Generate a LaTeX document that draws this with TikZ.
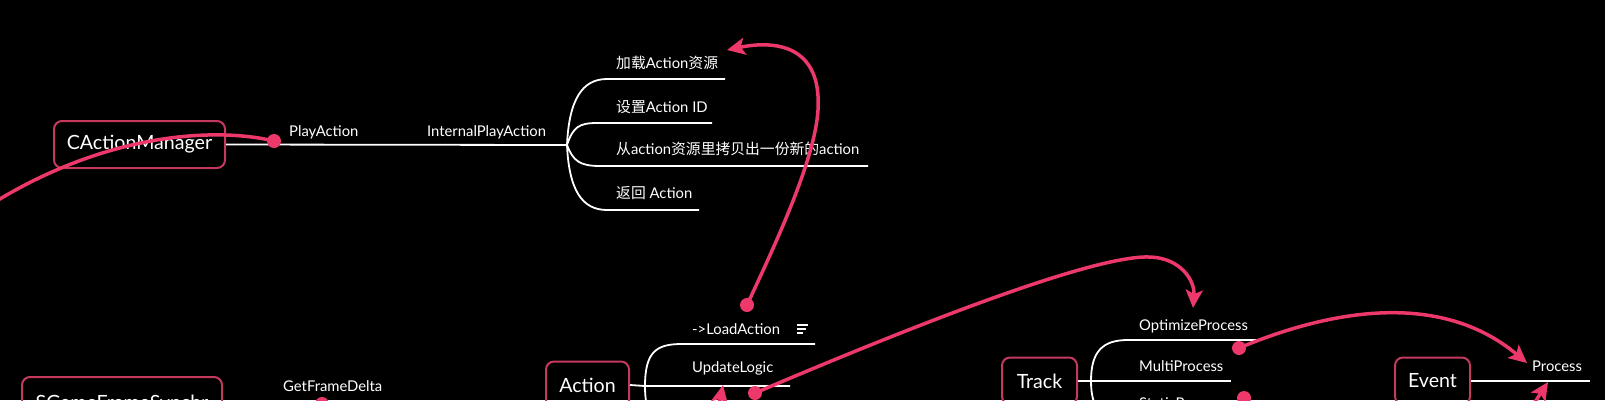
\documentclass[tikz,border=0pt]{standalone}
\usepackage{fontspec}
\setmainfont{Lato}
\newfontfamily\cjk{Noto Sans CJK SC}
\usetikzlibrary{arrows.meta}
\definecolor{pinkc}{RGB}{236,56,106}
\definecolor{boxpink}{RGB}{196,58,94}
\tikzset{
  topic/.style={draw=boxpink, line width=2pt, rounded corners=8pt, text=white,
    font=\fontsize{19.6}{22}\selectfont, minimum height=47pt, inner sep=0pt},
  lbl/.style={text=white, font=\fontsize{14.8}{16}\selectfont, anchor=west, inner sep=0pt},
  branch/.style={draw=white, line width=1.8pt},
  pk/.style={draw=pinkc, line width=3.5pt},
  pkarrow/.style={pk, -{Stealth[length=18pt,width=17pt,inset=4pt]}},
  dot/.style={circle, fill=pinkc, minimum size=14pt, inner sep=0pt},
}
\begin{document}
\begin{tikzpicture}[x=1pt,y=-1pt]
\useasboundingbox (0,0) rectangle (1605,400);
\fill[black] (0,0) rectangle (1605,400);
\clip (0,0) rectangle (1605,400);

% ---------- top group ----------
\node[topic, minimum width=171pt] (cam) at (139.5,144.5) {CActionManager};
\coordinate (b0) at (567,145);
\node[lbl] (play) at (289,132) {PlayAction};
\node[lbl] (iplay) at (427,132) {InternalPlayAction};
\draw[branch] (cam.east) -- (b0);

\node[lbl] (c1) at (616,63) {{\cjk 加载}Action{\cjk 资源}};
\node[lbl] (c2) at (616,107) {{\cjk 设置}Action ID};
\node[lbl] (c3) at (616,149) {{\cjk 从}action{\cjk 资源里拷贝出一份新的}action};
\node[lbl] (c4) at (616,193) {{\cjk 返回} Action};
\coordinate (u1s) at (607,79);  \coordinate (u1e) at (725,79);
\coordinate (u2s) at (597,123); \coordinate (u2e) at (712,123);
\coordinate (u3s) at (600,166); \coordinate (u3e) at (868,166);
\coordinate (u4s) at (607,210); \coordinate (u4e) at (699,210);
\draw[branch] (b0) .. controls +(2,-45) and +(-25,0) .. (u1s) -- (u1e);
\draw[branch] (b0) .. controls +(6,-18) and +(-18,0) .. (u2s) -- (u2e);
\draw[branch] (b0) .. controls +(6,16) and +(-20,0) .. (u3s) -- (u3e);
\draw[branch] (b0) .. controls +(2,45) and +(-25,0) .. (u4s) -- (u4e);

% ---------- bottom left ----------
\node[topic, minimum width=200pt, minimum height=54pt] (sgf) at (122,404) {SGameFrameSynchr};
\node[lbl] (gfd) at (283,386) {GetFrameDelta};
\coordinate (g0) at (420,404);
\draw[branch] (sgf.east) -- (g0);

% ---------- Action ----------
\node[topic, minimum width=83pt] (act) at (587.5,385) {Action};
\coordinate (a0) at (645,386);
\coordinate (l1s) at (682,344); \coordinate (l1e) at (815,344);
\coordinate (l2e) at (790,386);
\coordinate (l3s) at (682,428); \coordinate (l3e) at (800,428);
\draw[branch] (act.east) -- (a0) -- (l2e);
\draw[branch] (a0) .. controls +(0,-35) and +(-25,0) .. (l1s) -- (l1e);
\draw[branch] (a0) .. controls +(0,35) and +(-25,0) .. (l3s) -- (l3e);
\node[lbl] (load) at (692,329) {->LoadAction};
\node[lbl] (upd) at (692,368) {UpdateLogic};
\coordinate (ic1) at (797,325); \coordinate (ic1e) at (808,325);
\coordinate (ic2) at (797,329); \coordinate (ic2e) at (806,329);
\coordinate (ic3) at (797,333); \coordinate (ic3e) at (803,333);
\draw[white, line width=1.3pt] (ic1) -- (ic1e) (ic2) -- (ic2e) (ic3) -- (ic3e);

% ---------- Track ----------
\node[topic, minimum width=75pt] (trk) at (1039.5,381) {Track};
\coordinate (t0) at (1091,381);
\coordinate (m1s) at (1128,340); \coordinate (m1e) at (1257,340);
\coordinate (m2e) at (1231,381);
\coordinate (m3s) at (1128,420); \coordinate (m3e) at (1250,420);
\draw[branch] (trk.east) -- (t0) -- (m2e);
\draw[branch] (t0) .. controls +(0,-30) and +(-25,0) .. (m1s) -- (m1e);
\draw[branch] (t0) .. controls +(0,30) and +(-25,0) .. (m3s) -- (m3e);
\node[lbl] (opt) at (1139,326) {OptimizeProcess};
\node[lbl] (mul) at (1139,366) {MultiProcess};
\node[lbl] (sta) at (1139,403) {StaticProcess};

% ---------- Event ----------
\node[topic, minimum width=75pt] (evt) at (1432.5,381) {Event};
\coordinate (e0) at (1590,381);
\draw[branch] (evt.east) -- (e0);
\node[lbl] (proc) at (1532,366) {Process};

% ---------- pink connectors ----------
\node[dot] (d0) at (274,141) {};
\node[dot] (d1) at (747,305) {};
\node[dot] (d2) at (755,393) {};
\node[dot] (d3) at (1239,348) {};
\node[dot] (d4) at (1244,398) {};
\node[dot] (d5) at (322,404) {};

\coordinate (p0) at (-10,205);
\draw[pk] (d0.center) .. controls (220,128) and (110,130) .. (p0);

\coordinate (k1) at (818,110);
\coordinate (k1t) at (727,50);
\draw[pkarrow] (d1.center) .. controls (775,245) and (815,160) .. (k1)
  .. controls (822,45) and (775,40) .. (k1t);

\coordinate (k2) at (1150,257);
\coordinate (k2t) at (1193,308);
\draw[pkarrow] (d2.center) .. controls (950,310) and (1100,255) .. (k2)
  .. controls (1180,258) and (1195,280) .. (k2t);

\coordinate (k3t) at (1527,363);
\draw[pkarrow] (d3.center) .. controls (1330,310) and (1440,290) .. (k3t);

\coordinate (s1) at (712,440); \coordinate (s1t) at (723,385);
\draw[pkarrow] (s1) -- (s1t);
\coordinate (s2) at (1520,425); \coordinate (s2t) at (1548,382);
\draw[pkarrow] (s2) -- (s2t);
\end{tikzpicture}
\end{document}
